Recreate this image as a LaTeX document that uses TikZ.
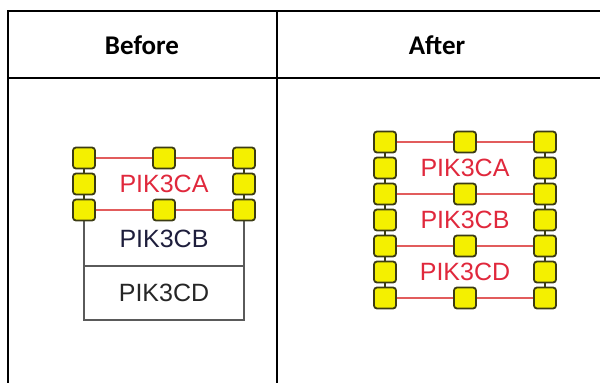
\documentclass[tikz,border=0pt]{standalone}
\usepackage{fontspec}
\setmainfont{Liberation Sans}
\newfontfamily\headfont{Carlito}
\usetikzlibrary{positioning}

\definecolor{padfill}{HTML}{F4F000}
\definecolor{padedge}{HTML}{3C3C14}
\definecolor{linkred}{HTML}{E25C5C}
\definecolor{genered}{HTML}{E0283C}
\definecolor{boxgray}{HTML}{5A5A5A}
\definecolor{genenavy}{HTML}{1E1E3C}

\tikzset{
  rule/.style={line width=2.2pt,line cap=rect},
  head/.style={font=\headfont\bfseries\fontsize{27}{27}\selectfont},
  gene/.style={font=\fontsize{25}{25}\selectfont,inner sep=0pt},
  pad/.style={draw=padedge,fill=padfill,rounded corners=3pt,line width=1.8pt,
    minimum width=22pt,minimum height=21pt,inner sep=0pt},
  link/.style={draw=linkred,line width=1.7pt},
  stack/.style={draw=padedge,line width=1.2pt},
  boxline/.style={draw=boxgray,line width=1.8pt},
}

\begin{document}
\begin{tikzpicture}[x=1pt,y=-1pt]
  \useasboundingbox (0,0) rectangle (600,383);
  % table frame, open on the right and at the bottom
  \draw[rule] (8,11) -- (600,11);
  \draw[rule] (8,78) -- (600,78);
  \draw[rule] (8,11) -- (8,383);
  \draw[rule] (277,11) -- (277,383);
  \node[head] (before) at (142,45) {Before};
  \node[head] (after) at (437,45) {After};

  % before: PIK3CB and PIK3CD boxes under the padded PIK3CA
  \draw[boxline] (84,158) -- (84,320) -- (244,320) -- (244,158);
  \draw[boxline] (84,266) -- (244,266);
  \foreach \y [count=\i] in {158,184,210}{
    \node[pad] (bl\i) at (84,\y) {};
    \node[pad] (br\i) at (244,\y) {};
  }
  \node[pad] (bm1) at (164,158) {};
  \node[pad] (bm3) at (164,210) {};
  \draw[link] (bl1) -- (bm1) -- (br1);
  \draw[link] (bl3) -- (bm3) -- (br3);
  \foreach \i/\j in {1/2,2/3}{
    \draw[stack] (bl\i) -- (bl\j);
    \draw[stack] (br\i) -- (br\j);
  }
  \node[gene,text=genered] (bca) at (164,184) {PIK3CA};
  \node[gene,text=genenavy] (bcb) at (164,239) {PIK3CB};
  \node[gene,text=black!85] (bcd) at (164,293) {PIK3CD};

  % after: every gene wrapped by pads
  \foreach \i in {1,...,7}{
    \pgfmathsetmacro{\y}{116+26*\i}
    \node[pad] (al\i) at (385,\y) {};
    \node[pad] (ar\i) at (545,\y) {};
  }
  \foreach \i in {1,3,5,7}{
    \node[pad] (am\i) at (465,{116+26*\i}) {};
    \draw[link] (al\i) -- (am\i) -- (ar\i);
  }
  \foreach \i [evaluate=\i as \j using int(\i+1)] in {1,...,6}{
    \draw[stack] (al\i) -- (al\j);
    \draw[stack] (ar\i) -- (ar\j);
  }
  \node[gene,text=genered] (aca) at (465,168) {PIK3CA};
  \node[gene,text=genered] (acb) at (465,220) {PIK3CB};
  \node[gene,text=genered] (acd) at (465,272) {PIK3CD};
\end{tikzpicture}
\end{document}
